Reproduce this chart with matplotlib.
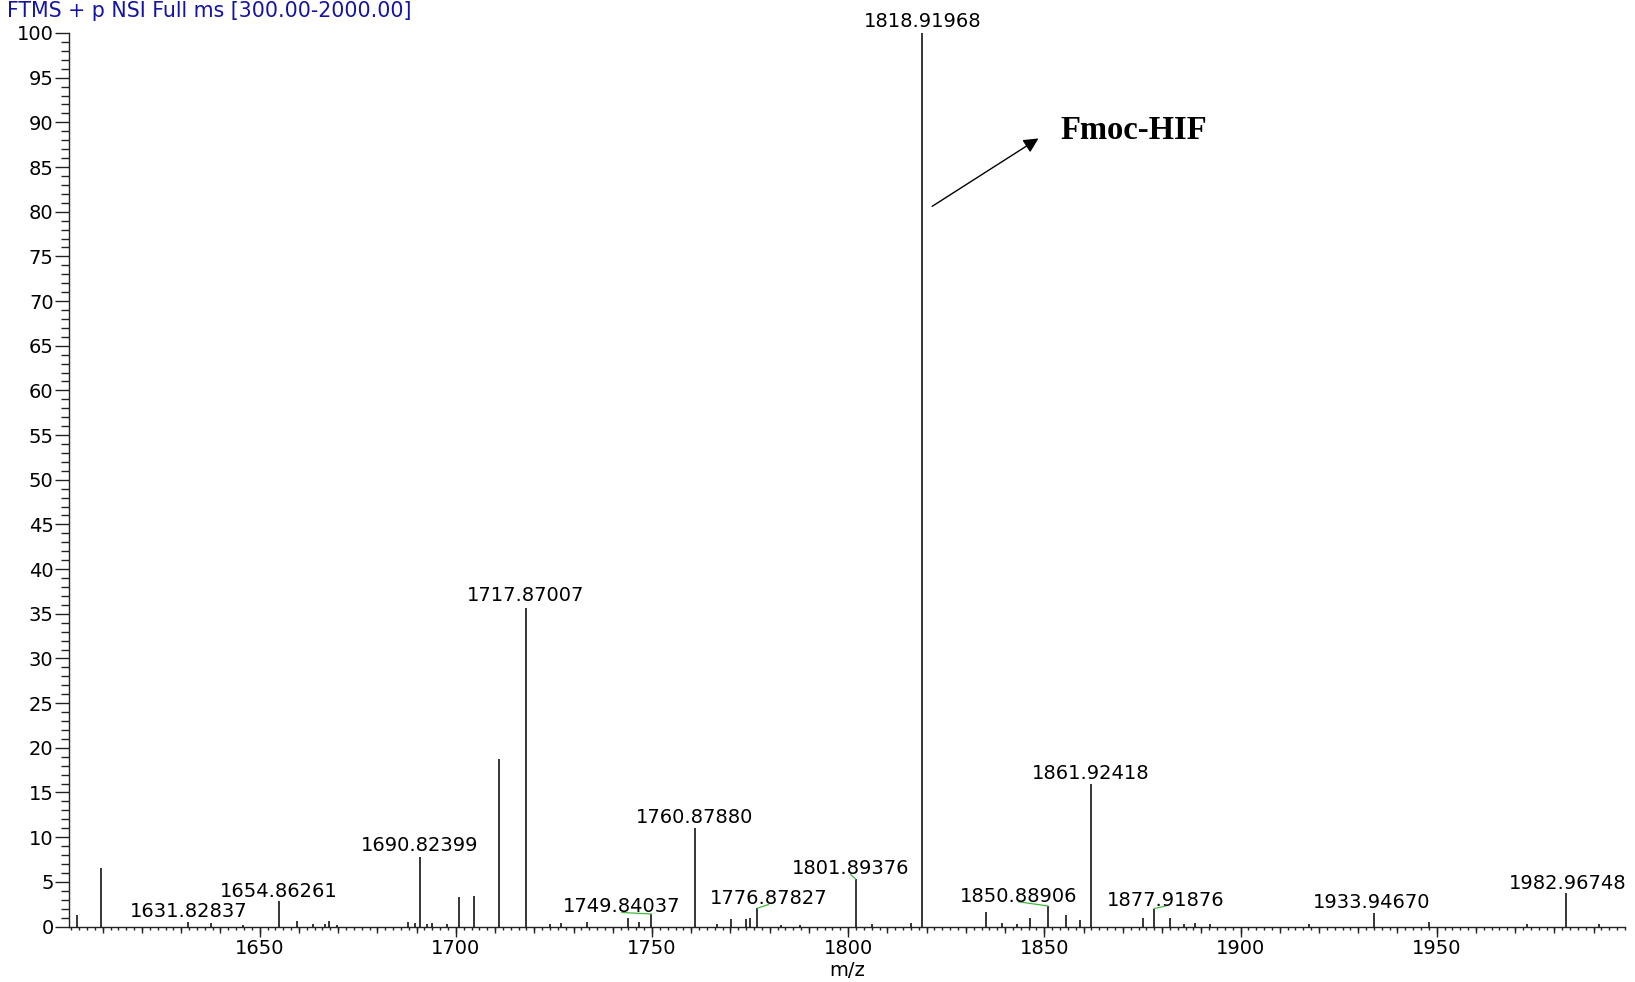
import matplotlib
matplotlib.use("Agg")
import matplotlib.pyplot as plt
from matplotlib.ticker import MultipleLocator
import numpy as np

# peak list (m/z, relative abundance %)
mz = [1603.5, 1609.65, 1631.82837, 1637.7, 1645.7, 1654.86261, 1659.6, 1663.6,
      1666.6, 1667.7, 1669.6, 1687.7, 1689.5, 1690.82399, 1692.7, 1693.9,
      1697.7, 1700.7, 1704.75, 1710.9, 1717.87007, 1724.0, 1726.9, 1733.5,
      1744.0, 1746.8, 1749.84037, 1760.87880, 1766.5, 1770.1, 1774.0, 1775.0,
      1776.87827, 1782.9, 1787.8, 1801.89376, 1806.0, 1815.9, 1818.91968,
      1835.2, 1839.2, 1843.0, 1846.3, 1850.88906, 1855.4, 1859.2, 1861.92418,
      1875.1, 1877.91876, 1882.1, 1885.5, 1888.5, 1892.2, 1917.4, 1933.94670,
      1948.0, 1973.1, 1982.96748, 1991.4]
intensity = [1.3, 6.5, 0.45, 0.4, 0.2, 2.9, 0.6, 0.25,
             0.3, 0.65, 0.2, 0.55, 0.35, 7.8, 0.3, 0.35,
             0.3, 3.35, 3.45, 18.8, 35.7, 0.25, 0.4, 0.55,
             0.9, 0.5, 1.4, 11.0, 0.3, 0.8, 0.8, 0.9,
             2.05, 0.2, 0.2, 5.3, 0.25, 0.35, 100.0,
             1.6, 0.35, 0.25, 0.9, 2.3, 1.25, 0.75, 15.9,
             0.9, 2.0, 0.9, 0.25, 0.35, 0.25, 0.25, 1.5,
             0.45, 0.25, 3.7, 0.25]

labeled_mz = [1631.82837, 1654.86261, 1690.82399, 1717.87007, 1749.84037,
              1760.87880, 1776.87827, 1801.89376, 1818.91968, 1850.88906,
              1861.92418, 1877.91876, 1933.94670, 1982.96748]

title = "FTMS + p NSI Full ms [300.00-2000.00]"
compound = "Fmoc-HIF"

# label placement: (dx, gap above peak top) in pixels, green leader if shifted
label_offsets = {
    1631.82837: (0.5, 5.0), 1654.86261: (0, 3.9), 1690.82399: (0, 6.3),
    1717.87007: (0, 6.2), 1749.84037: (-29.6, 1.7), 1760.87880: (0, 5.5),
    1776.87827: (11, 3.9), 1801.89376: (-5, 4.9), 1818.91968: (0, 6.3),
    1850.88906: (-29, 4.3), 1861.92418: (0, 5.4), 1877.91876: (12, 2.9),
    1933.94670: (-2, 4.6), 1982.96748: (2, 4.1),
}
leader = {1749.84037, 1776.87827, 1801.89376, 1850.88906, 1877.91876}

plt.rcParams["font.family"] = ["DejaVu Sans"]
W, H, DPI = 1635, 982, 100
PT = 72 / DPI
FS = 14

fig = plt.figure(figsize=(W / DPI, H / DPI), dpi=DPI)
ax = fig.add_axes([69 / W, (H - 926.5) / H, (1625 - 69) / W, (926.5 - 33) / H])

ax.vlines(mz, 0, intensity, color="black", lw=1.1, zorder=3)
ax.set_xlim(1601.4, 1998.0)
ax.set_ylim(0, 100)

for s in ("top", "right"):
    ax.spines[s].set_visible(False)
for s in ("left", "bottom"):
    ax.spines[s].set_linewidth(1.0)
    ax.spines[s].set_color("#222222")

ax.xaxis.set_major_locator(MultipleLocator(50))
ax.xaxis.set_minor_locator(MultipleLocator(2))
ax.yaxis.set_major_locator(MultipleLocator(5))
ax.yaxis.set_minor_locator(MultipleLocator(1))
ax.tick_params(axis="x", which="major", length=10 * PT, width=1, pad=2,
               labelsize=FS, color="#222222")
ax.tick_params(axis="x", which="minor", length=3 * PT, width=1, color="#222222")
ax.tick_params(axis="y", which="major", length=14 * PT, width=1, pad=1,
               labelsize=FS, color="#222222")
ax.tick_params(axis="y", which="minor", length=8 * PT, width=1, color="#222222")

# intermediate ticks every 10
sec = ax.secondary_xaxis("bottom")
sec.xaxis.set_major_locator(MultipleLocator(10))
sec.xaxis.set_minor_locator(plt.NullLocator())
sec.tick_params(axis="x", length=6 * PT, width=1, labelbottom=False,
                color="#222222")
sec.spines["bottom"].set_visible(False)

ax.set_xlabel("m/z", fontsize=FS, labelpad=2)

lookup = dict(zip(mz, intensity))
for m in labeled_mz:
    dx, gap = label_offsets[m]
    kw = {}
    if m in leader:
        kw["arrowprops"] = dict(arrowstyle="-", color="#3cbb3c", lw=0.9,
                                shrinkA=0, shrinkB=0, relpos=(0.5, 0.2))
    ax.annotate(f"{m:.5f}", xy=(m, lookup[m]), xytext=(dx * PT, gap * PT),
                textcoords="offset points", ha="center", va="baseline",
                fontsize=FS, annotation_clip=False, zorder=4, **kw)

# compound annotation with arrow
ax.annotate("", xy=(1848.5, 88.2), xytext=(1821.4, 80.6),
            arrowprops=dict(arrowstyle="-|>", color="black", lw=1.0,
                            mutation_scale=22, shrinkA=0, shrinkB=0))
ax.text(1872.7, 89.1, compound, ha="center", va="center",
        family="Liberation Serif", weight="bold", fontsize=23.5)

fig.text(7 / W, 1 - 1 / H, title, color="#1414a0", fontsize=14.8,
         ha="left", va="top")

fig.savefig("out.png", dpi=DPI)
